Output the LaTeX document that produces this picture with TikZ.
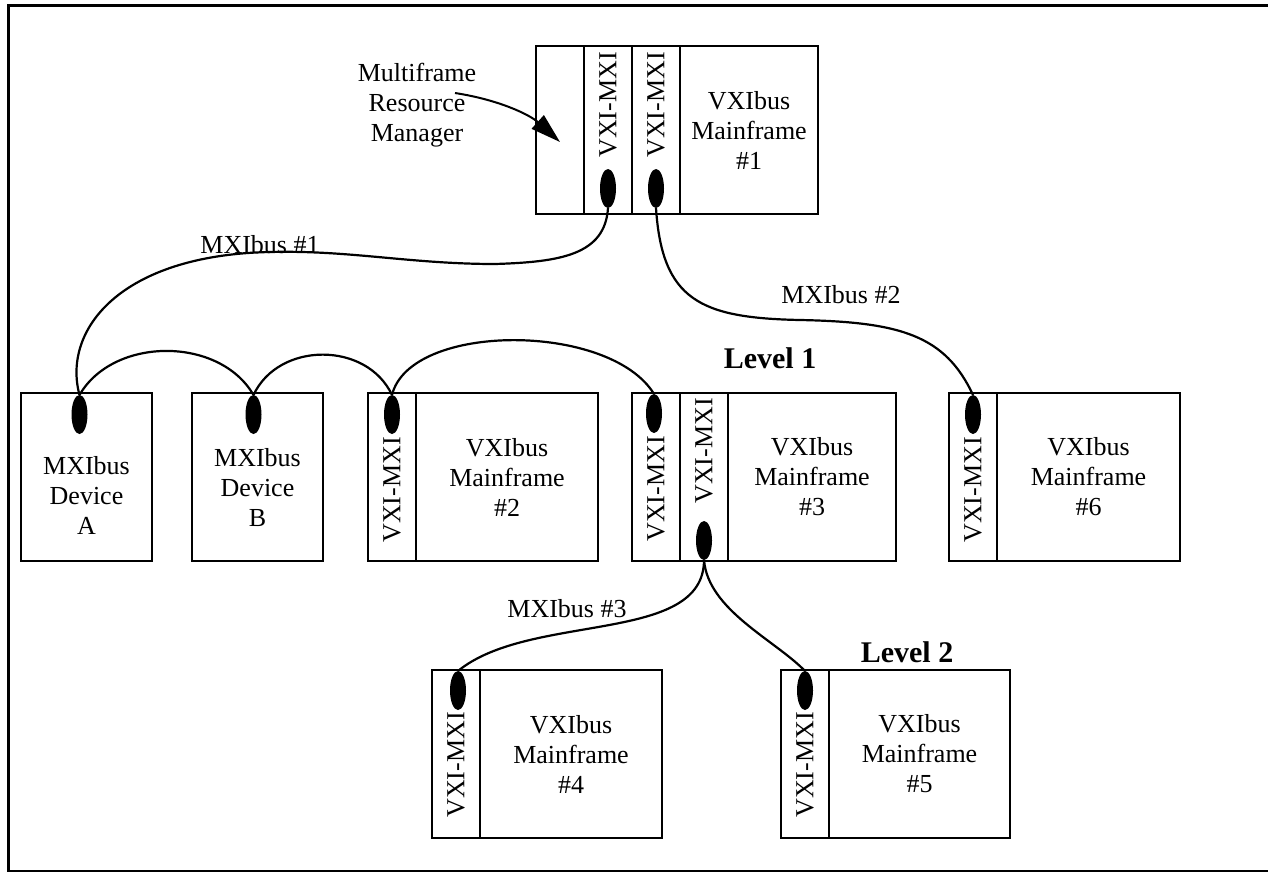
\documentclass[tikz,border=0pt]{standalone}
\usepackage{fontspec}
\setmainfont{Liberation Serif}
\usetikzlibrary{shapes.geometric, arrows.meta, positioning}
\tikzset{
  slotbox/.style={
    rectangle, draw, line width=2pt,
    outer sep=0pt, inner sep=0pt,
    minimum width=48pt, minimum height=168pt
  },
  framebody/.style={
    slotbox, align=center
  },
  devbox/.style={
    slotbox, minimum width=131pt
  },
  port/.style={
    ellipse, fill=black, inner sep=0pt, outer sep=0pt,
    minimum width=16pt, minimum height=39pt
  },
  slotlabel/.style={
    rotate=90, anchor=east, inner sep=0pt
  },
  cable/.style={
    line width=2.2pt
  },
  levellabel/.style={
    font=\fontsize{30}{34}\selectfont\bfseries
  },
  pointer/.style={
    -{Triangle[length=30pt, width=18pt]}, line width=2pt
  }
}

\begin{document}
\begin{tikzpicture}[x=1pt, y=1pt, font=\fontsize{26}{30}\selectfont]

  \useasboundingbox (0,0) rectangle (1268,-872);

  % ── Outer frame ────────────────────────────────────────────
  \draw[line width=3pt] (1268,-6) -- (8,-6) -- (8,-871) -- (1268,-871);

  % ── Mainframe #1 (resource manager) ────────────────────────
  \node[slotbox, anchor=north west] (mf1e) at (536,-46) {};
  \node[slotbox, right=0pt of mf1e] (mf1a) {};
  \node[slotbox, right=0pt of mf1a] (mf1b) {};
  \node[framebody, right=0pt of mf1b, minimum width=138pt] (mf1) {VXIbus\\Mainframe\\\#1};
  \node[slotlabel] at ([yshift=-6pt]mf1a.north) {VXI-MXI};
  \node[slotlabel] at ([yshift=-6pt]mf1b.north) {VXI-MXI};
  \node[port, above=6pt of mf1a.south] (p1a) {};
  \node[port, above=6pt of mf1b.south] (p1b) {};

  \node[align=center] (mrm) at (417,-105) {Multiframe\\Resource\\Manager};
  \coordinate (mrmtail) at (455,-93);
  \draw[pointer] (mrmtail) .. controls (500,-100) and (530,-115) .. ([yshift=-12pt]mf1e.center);

  % ── Level 1 ────────────────────────────────────────────────
  \node[devbox, anchor=north west] (devA) at (21,-393) {};
  \node[align=center] (devAtxt) at ([yshift=-18pt]devA.center) {MXIbus\\Device\\A};
  \node[port, below=2pt of devA.north, xshift=-7pt] (pA) {};

  \node[devbox, anchor=north west] (devB) at (192,-393) {};
  \node[align=center] (devBtxt) at ([yshift=-11pt]devB.center) {MXIbus\\Device\\B};
  \node[port, below=2pt of devB.north, xshift=-4pt] (pB) {};

  \node[slotbox, anchor=north west] (mf2a) at (368,-393) {};
  \node[framebody, right=0pt of mf2a, minimum width=182pt] (mf2) {VXIbus\\Mainframe\\\#2};
  \node[port, below=2pt of mf2a.north] (p2) {};
  \node[slotlabel] at ([yshift=-3pt]p2.south) {VXI-MXI};

  \node[slotbox, anchor=north west] (mf3a) at (632,-393) {};
  \node[slotbox, right=0pt of mf3a] (mf3b) {};
  \node[framebody, right=0pt of mf3b, minimum width=168pt] (mf3) {VXIbus\\Mainframe\\\#3};
  \node[port, below=1pt of mf3a.north, xshift=-2pt] (p3a) {};
  \node[slotlabel] at ([yshift=-3pt, xshift=2pt]p3a.south) {VXI-MXI};
  \node[slotlabel] at ([yshift=-5pt]mf3b.north) {VXI-MXI};
  \node[port, above=1pt of mf3b.south] (p3b) {};

  \node[slotbox, anchor=north west] (mf6a) at (949,-393) {};
  \node[framebody, right=0pt of mf6a, minimum width=183pt] (mf6) {VXIbus\\Mainframe\\\#6};
  \node[port, below=2pt of mf6a.north] (p6) {};
  \node[slotlabel] at ([yshift=-3pt]p6.south) {VXI-MXI};

  % ── Level 2 ────────────────────────────────────────────────
  \node[slotbox, anchor=north west] (mf4a) at (432,-670) {};
  \node[framebody, right=0pt of mf4a, minimum width=182pt] (mf4) {VXIbus\\Mainframe\\\#4};
  \node[port, below=1pt of mf4a.north, xshift=2pt] (p4) {};
  \node[slotlabel] at ([yshift=-2pt, xshift=-2pt]p4.south) {VXI-MXI};

  \node[slotbox, anchor=north west] (mf5a) at (781,-670) {};
  \node[framebody, right=0pt of mf5a, minimum width=181pt] (mf5) {VXIbus\\Mainframe\\\#5};
  \node[port, below=1pt of mf5a.north] (p5) {};
  \node[slotlabel] at ([yshift=-2pt]p5.south) {VXI-MXI};

  % ── Bus labels ─────────────────────────────────────────────
  \node (bus1) at (260,-245) {MXIbus \#1};
  \node (bus2) at (841,-295) {MXIbus \#2};
  \node (bus3) at (567,-609) {MXIbus \#3};
  \node[levellabel] (lvl1) at (770,-358) {Level 1};
  \node[levellabel] (lvl2) at (907,-652) {Level 2};

  % ── Cables ─────────────────────────────────────────────────
  \draw[cable] (p1a.south) .. controls (605,-255) and (560,-262) .. (495,-264)
                           .. controls (410,-264) and (350,-250) .. (270,-252)
                           .. controls (120,-255) and (62,-330) .. (pA.north);
  \draw[cable] (p1b.south) .. controls (662,-300) and (700,-318) .. (800,-320)
                           .. controls (900,-322) and (945,-335) .. (p6.north);
  \draw[cable] (pA.north) to[out=60, in=120] (pB.north);
  \draw[cable] (pB.north) to[out=65, in=115, looseness=1.1] (p2.north);
  \draw[cable] (p2.north) .. controls (410,-322) and (610,-322) .. (p3a.north);
  \draw[cable] (p3b.south) .. controls (704,-645) and (530,-612) .. (p4.north);
  \draw[cable] (p3b.south) .. controls (708,-610) and (775,-640) .. (p5.north);

\end{tikzpicture}
\end{document}
